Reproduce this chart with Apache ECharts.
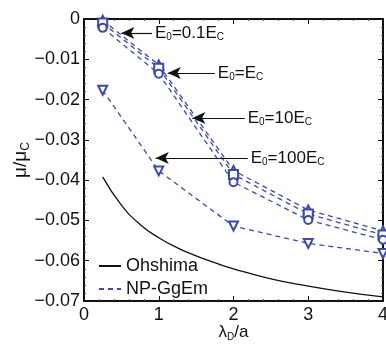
<!DOCTYPE html>
<html>
<head>
<meta charset="utf-8">
<script src="https://cdn.jsdelivr.net/npm/echarts@6/dist/echarts.min.js"></script>
<style>
  html, body { margin: 0; padding: 0; background: #fff; }
  #chart { width: 386px; height: 344px; }
</style>
</head>
<body>
<div id="chart"></div>
<script>
// NP-GgEm simulation points
const xNP = [0.25, 1, 2, 3, 4]
const npE01 = [-0.0003, -0.0114, -0.0376, -0.0474, -0.0526]
const npE1 = [-0.0010, -0.0122, -0.0386, -0.0484, -0.0536]
const npE10 = [-0.0022, -0.0136, -0.0405, -0.0499, -0.0548]
const npE100 = [-0.0177, -0.0377, -0.0514, -0.0557, -0.0582]

// Ohshima analytic curve
const xOh = [0.25, 0.5, 0.75, 1, 1.25, 1.5, 1.75, 2, 2.5, 3, 3.5, 4]
const yOh = [-0.0392, -0.0462, -0.0510, -0.0543, -0.0568, -0.0588, -0.0605, -0.0620, -0.0645, -0.0663, -0.0678, -0.0690]

const yTicks = [0, -0.01, -0.02, -0.03, -0.04, -0.05, -0.06, -0.07]

// annotation arrows: tip point, tail x, label
const arrowTips = [[0.5, -0.0035], [1.12, -0.0134], [1.45, -0.0246], [0.96, -0.0345]]
const arrowTails = [0.91, 1.75, 2.15, 2.19]
const arrowLabels = ['0.1', '', '10', '100']

const FONT = 'Liberation Sans'
const BLUE = '#3d4aa8'
const rich = {
  n: { fontSize: 17, fontFamily: FONT, color: '#111' },
  s: { fontSize: 10, fontFamily: FONT, color: '#111', padding: [9, 0, 0, 0] }
}
const richBig = {
  n: { fontSize: 19, fontFamily: FONT, color: '#111' },
  s: { fontSize: 12, fontFamily: FONT, color: '#111', padding: [10, 0, 0, 0] }
}

const pairs = (xs, ys) => xs.map((x, i) => [x, ys[i]])

const npSeries = (name, ys, symbol, rotate) => ({
  name,
  type: 'line',
  data: pairs(xNP, ys),
  symbol,
  symbolRotate: rotate || 0,
  symbolSize: symbol === 'emptyCircle' ? 8 : 9,
  lineStyle: { color: BLUE, width: 1.3, type: [5, 4] },
  itemStyle: { color: BLUE, borderWidth: 1.3 },
  z: 3
})

const arrowLines = arrowTips.map((t, i) => [
  { coord: t, symbol: 'arrow' },
  {
    coord: [arrowTails[i], t[1]],
    symbol: 'none',
    label: {
      show: true,
      position: 'end',
      distance: 3,
      formatter: '{n|E}{s|0}{n|=' + arrowLabels[i] + 'E}{s|C}',
      rich
    }
  }
])

const frameAxis = {
  axisLine: { onZero: false, lineStyle: { color: '#111', width: 2 } },
  axisTick: { inside: true, length: 5, lineStyle: { color: '#111' } },
  minorTick: { show: true, splitNumber: 5, length: 2, lineStyle: { color: '#555' } },
  splitLine: { show: false }
}

const option = {
  animation: false,
  backgroundColor: '#fff',
  grid: { left: 84, top: 19, right: 3, bottom: 43, outerBoundsMode: 'none', containLabel: false },
  xAxis: [
    {
      type: 'value', min: 0, max: 4, interval: 1,
      name: '{n|λ}{s|D}{n|/a}', nameLocation: 'middle', nameGap: 22, nameMoveOverlap: false,
      nameTextStyle: { rich },
      ...frameAxis,
      axisLabel: { color: '#111', fontSize: 18, fontFamily: FONT, margin: 5 }
    },
    {
      type: 'value', min: 0, max: 4, interval: 1, position: 'top',
      ...frameAxis,
      axisLabel: { show: false }
    }
  ],
  yAxis: [
    {
      type: 'value', min: -0.07, max: 0, interval: 0.01,
      name: '{n|μ/μ}{s|C}', nameLocation: 'middle', nameGap: 52, nameRotate: 90, nameMoveOverlap: false,
      nameTextStyle: { rich: richBig },
      ...frameAxis,
      axisLabel: {
        color: '#111', fontSize: 18, fontFamily: FONT, margin: 4,
        formatter: v => {
          const t = yTicks.find(k => Math.abs(k - v) < 1e-9)
          return t === 0 ? '0' : '\u2212' + Math.abs(t).toFixed(2)
        }
      }
    },
    {
      type: 'value', min: -0.07, max: 0, interval: 0.01, position: 'right',
      ...frameAxis,
      axisLabel: { show: false }
    }
  ],
  legend: {
    orient: 'vertical',
    left: 93,
    top: 252,
    itemWidth: 22,
    itemHeight: 14,
    itemGap: 5,
    itemStyle: { opacity: 0 },
    data: ['Ohshima', 'NP-GgEm'],
    textStyle: { fontSize: 18, fontFamily: FONT, color: '#111' }
  },
  series: [
    {
      name: 'Ohshima',
      type: 'line',
      data: pairs(xOh, yOh),
      smooth: true,
      symbol: 'none',
      lineStyle: { color: '#111', width: 1.3 },
      itemStyle: { color: '#111' }
    },
    {
      name: 'NP-GgEm',
      type: 'line',
      data: [],
      symbol: 'none',
      lineStyle: { color: BLUE, width: 1.3, type: [5, 4] },
      itemStyle: { color: BLUE }
    },
    npSeries('E0=0.1EC', npE01, 'emptyTriangle'),
    npSeries('E0=EC', npE1, 'emptyRect'),
    npSeries('E0=10EC', npE10, 'emptyCircle'),
    npSeries('E0=100EC', npE100, 'emptyTriangle', 180),
    {
      name: 'arrows',
      type: 'line',
      data: [],
      markLine: {
        silent: true,
        symbolSize: [9, 13],
        lineStyle: { color: '#111', width: 1.2, type: 'solid' },
        itemStyle: { color: '#111' },
        data: arrowLines
      }
    }
  ]
}

const chart = echarts.init(document.getElementById('chart'))
chart.setOption(option)
</script>
</body>
</html>
